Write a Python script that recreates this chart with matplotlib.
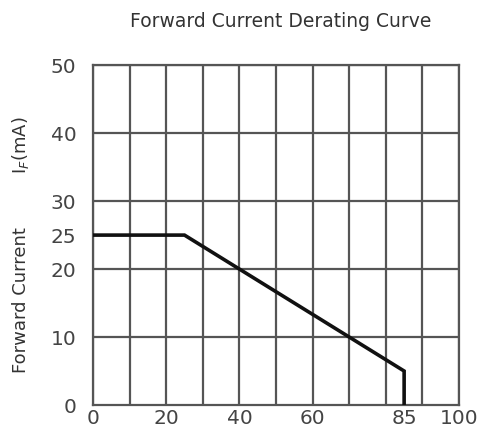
import matplotlib
matplotlib.use("Agg")
import matplotlib.pyplot as plt

# Data
temp_c = [0, 25, 85, 85]
current_ma = [25, 25, 5, 0]
x_ticks = [0, 20, 40, 60, 85, 100]
y_ticks = [0, 10, 20, 25, 30, 40, 50]
x_grid = list(range(0, 101, 10))
y_grid = [10, 20, 30, 40, 50]

fig = plt.figure(figsize=(4.92, 4.34), dpi=100)
ax = fig.add_axes([0.189, 0.0668, 0.744, 0.783])
ax.set_xlim(0, 100)
ax.set_ylim(0, 50)

grid_col = "#555555"
for gx in x_grid:
    ax.axvline(gx, color=grid_col, lw=1.6, zorder=1)
for gy in y_grid:
    ax.axhline(gy, color=grid_col, lw=1.6, zorder=1)

ax.plot(temp_c, current_ma, color="#111111", lw=2.6, solid_joinstyle="miter", zorder=3)

for s in ax.spines.values():
    s.set_color(grid_col)
    s.set_linewidth(1.6)

ax.set_xticks(x_ticks)
ax.set_yticks(y_ticks)
ax.tick_params(length=0, labelsize=14.5, colors="#444444")
ax.tick_params(axis="x", pad=3)
ax.tick_params(axis="y", pad=12)

fig.text(0.57, 0.95, "Forward Current Derating Curve", ha="center", va="center",
         fontsize=13.5, color="#333333")
fig.text(0.042, 0.309, "Forward Current", rotation=90, ha="center", va="center",
         fontsize=13, color="#333333")
fig.text(0.042, 0.666, "I$_F$(mA)", rotation=90, ha="center", va="center",
         fontsize=13, color="#333333")

fig.savefig("out.png", dpi=100)
